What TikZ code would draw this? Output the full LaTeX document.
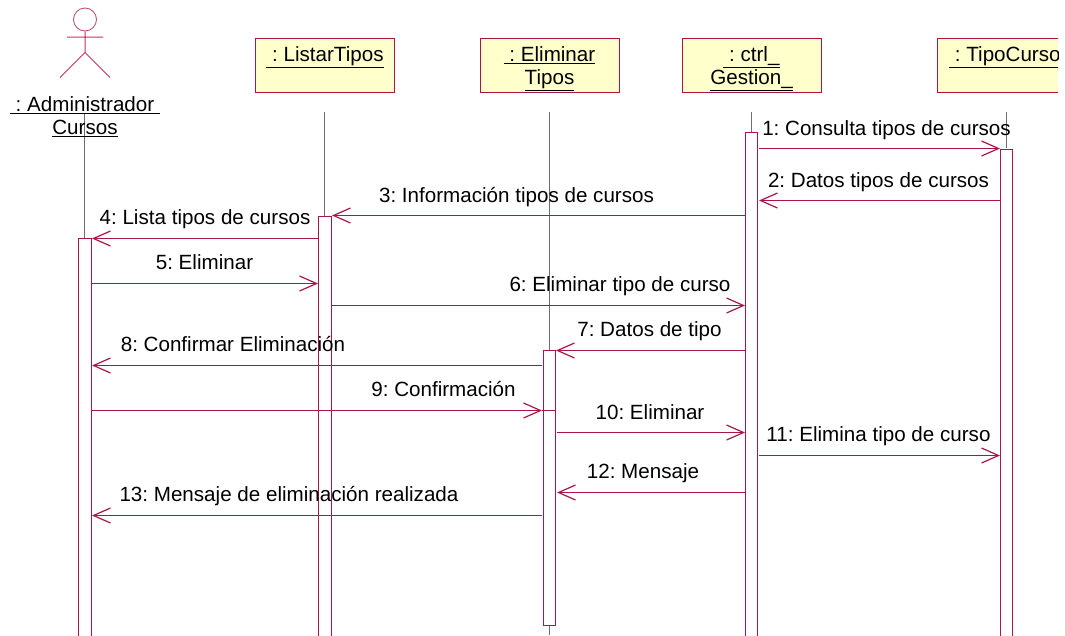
\documentclass[tikz,border=0pt]{standalone}
\usepackage{fontspec}
\setmainfont{Liberation Sans}
\usetikzlibrary{arrows.meta}
\definecolor{umlred}{RGB}{170,20,70}
\definecolor{umlfill}{RGB}{255,255,204}
\definecolor{lifegray}{RGB}{110,110,110}
\tikzset{
  x=1pt,y=-1pt,
  objbox/.style={draw=umlred,fill=umlfill,line width=1.1pt,anchor=north west,inner sep=0pt,minimum width=139pt,minimum height=54pt},
  lbl/.style={font=\fontsize{20.6}{23}\selectfont,inner sep=0pt,align=center,text=black,anchor=base},
  msg/.style={lbl,yshift=-0.7pt},
  life/.style={draw=lifegray,line width=0.8pt},
  bar/.style={draw=umlred,fill=white,line width=1.1pt,anchor=north west,inner sep=0pt},
  call/.style={draw=umlred,line width=1.2pt,-{Straight Barb[length=17pt,width=15pt]}},
}
\newcommand{\ul}[1]{\underline{#1}}
\newcommand{\lsp}{\hspace{5.7pt}}
\begin{document}
\frenchspacing
\begin{tikzpicture}
\useasboundingbox (0,0) rectangle (1065,635);
% lifelines
\coordinate (la) at (84.5,113); \coordinate (lab) at (84.5,635);
\coordinate (lb) at (324.5,112); \coordinate (lbb) at (324.5,635);
\coordinate (lc) at (549,112); \coordinate (lcb) at (549,635);
\coordinate (ld) at (751.5,112); \coordinate (ldb) at (751.5,635);
\coordinate (le) at (1006,112); \coordinate (leb) at (1006,148);
\draw[life] (la)--(lab); \draw[life] (lb)--(lbb); \draw[life] (lc)--(lcb); \draw[life] (ld)--(ldb); \draw[life] (le)--(leb);
% actor
\node[circle,draw=umlred!80,line width=.8pt,minimum size=23pt,inner sep=0pt] (head) at (85,19.5) {};
\coordinate (hip) at (85,52.5); \coordinate (la1) at (60,77.5); \coordinate (la2) at (110,77.5);
\coordinate (ar1) at (67,37); \coordinate (ar2) at (103,37);
\draw[draw=umlred!85,line width=1pt] (head.south)--(hip) (ar1)--(ar2) (la1)--(hip)--(la2);
\node[msg] (actor) at (85,111) {\ul{\lsp: Administrador\lsp}};
\node[msg] (actorb) at (85,134) {\ul{Cursos}};
% objects
\node[objbox] (o1) at (254.5,37.5) {};
\node[lbl] (t1) at (325,61.5) {\ul{\lsp: ListarTipos}};
\node[objbox] (o2) at (479.5,37.5) {};
\node[lbl] (t2) at (549.5,61.5) {\ul{\lsp: Eliminar}};
\node[lbl] (t2b) at (549.5,84.5) {\ul{Tipos}};
\node[objbox] (o3) at (681.5,37.5) {};
\node[lbl] (t3) at (751.5,61.5) {\ul{\lsp: ctrl\_}};
\node[lbl] (t3b) at (751.5,84.5) {\ul{Gestion\_}};
% clipped object
\begin{scope}
\clip (930,30) rectangle (1058,100);
\node[objbox] (o4) at (936.5,37.5) {};
\node[lbl,anchor=base west] (t4) at (949,61.5) {\ul{\lsp: TipoCurso}};
\end{scope}
% activations
\node[bar,minimum width=13pt,minimum height=398pt] (ba) at (78,237.5) {};
\node[bar,minimum width=13pt,minimum height=420pt] (bb) at (318,215.5) {};
\node[bar,minimum width=12pt,minimum height=275pt] (bc) at (542.5,350) {};
\node[bar,minimum width=12pt,minimum height=504pt] (bd) at (745,132) {};
\node[bar,minimum width=12pt,minimum height=487pt] (be) at (1000,149) {};
% messages
\coordinate (m1a) at (759,148.5); \coordinate (m1b) at (1000,148.5);
\draw[call] (m1a)--(m1b);
\node[msg] (n1) at (886.5,135) {1: Consulta tipos de cursos};
\coordinate (m2a) at (1000,200.5); \coordinate (m2b) at (759,200.5);
\draw[call] (m2a)--(m2b);
\node[msg] (n2) at (878.5,186.7) {2: Datos tipos de cursos};
\coordinate (m3a) at (745,215.5); \coordinate (m3b) at (332,215.5);
\draw[call] (m3a)--(m3b);
\node[msg] (n3) at (516.5,202) {3: Información tipos de cursos};
\coordinate (m4a) at (318,238.5); \coordinate (m4b) at (92,238.5);
\draw[call] (m4a)--(m4b);
\node[msg] (n4) at (205,223.7) {4: Lista tipos de cursos};
\coordinate (m5a) at (92,283.5); \coordinate (m5b) at (318,283.5);
\draw[call] (m5a)--(m5b);
\node[msg] (n5) at (204.5,269) {5: Eliminar};
\coordinate (m6a) at (332,305.5); \coordinate (m6b) at (745,305.5);
\draw[call] (m6a)--(m6b);
\node[msg] (n6) at (620,291) {6: Eliminar tipo de curso};
\coordinate (m7a) at (745,350.5); \coordinate (m7b) at (556,350.5);
\draw[call] (m7a)--(m7b);
\node[msg] (n7) at (649.5,336) {7: Datos de tipo};
\coordinate (m8a) at (542,365.5); \coordinate (m8b) at (92,365.5);
\draw[call] (m8a)--(m8b);
\node[msg] (n8) at (233,351) {8: Confirmar Eliminación};
\coordinate (m9a) at (92,410.5); \coordinate (m9b) at (542,410.5);
\draw[call] (m9a)--(m9b);
\coordinate (m9c) at (554.5,410.5);
\draw[draw=umlred,line width=1.2pt] (m9b)--(m9c);
\node[msg] (n9) at (443.5,396) {9: Confirmación};
\coordinate (m10a) at (557,432.5); \coordinate (m10b) at (745,432.5);
\draw[call] (m10a)--(m10b);
\node[msg] (n10) at (650,418.5) {10: Eliminar};
\coordinate (m11a) at (759,455.5); \coordinate (m11b) at (1000,455.5);
\draw[call] (m11a)--(m11b);
\node[msg] (n11) at (878.5,441) {11: Elimina tipo de curso};
\coordinate (m12a) at (745,492.5); \coordinate (m12b) at (557,492.5);
\draw[call] (m12a)--(m12b);
\node[msg] (n12) at (643,478) {12: Mensaje};
\coordinate (m13a) at (542,515.5); \coordinate (m13b) at (92,515.5);
\draw[call] (m13a)--(m13b);
\node[msg] (n13) at (289,500.5) {13: Mensaje de eliminación realizada};
\end{tikzpicture}
\end{document}
